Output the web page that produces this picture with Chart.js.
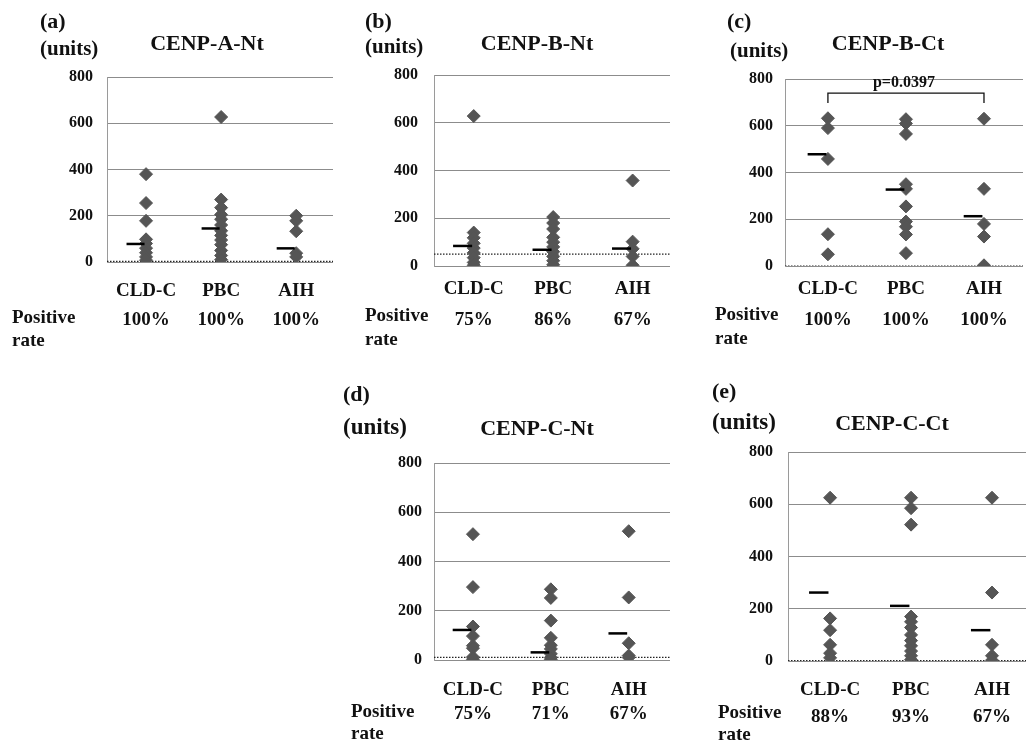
<!DOCTYPE html>
<html>
<head>
<meta charset="utf-8">
<script src="https://cdn.jsdelivr.net/npm/chart.js@4.4.0/dist/chart.umd.min.js"></script>
<style>
  body { margin: 0; background: #fff; width: 1026px; height: 742px; position: relative; overflow: hidden;
         font-family: "Liberation Serif", "Times New Roman", serif; font-weight: bold; color: #111; }
  canvas { position: absolute; }
  .lbl { position: absolute; white-space: nowrap; }
</style>
</head>
<body>
<script>
// groups and axis
const categories = ["CLD-C", "PBC", "AIH"];
const yTicks = [0, 200, 400, 600, 800];

// (a) CENP-A-Nt
const aCLDC = [380, 255, 178, 98, 80, 60, 40, 22, 8];
const aPBC = [627, 270, 235, 205, 185, 160, 135, 115, 95, 75, 50, 28, 10];
const aAIH = [200, 178, 133, 38, 22];
const aMeans = [78, 145, 59];
const aRates = ["100%", "100%", "100%"];

// (b) CENP-B-Nt
const bCLDC = [628, 140, 118, 95, 75, 55, 35, 15, 3];
const bPBC = [205, 180, 155, 120, 100, 80, 60, 40, 22, 5];
const bAIH = [358, 102, 72, 40, 3];
const bMeans = [84, 68, 73];
const bRates = ["75%", "86%", "67%"];

// (c) CENP-B-Ct
const cCLDC = [632, 590, 458, 136, 50];
const cPBC = [628, 610, 565, 350, 330, 255, 190, 168, 135, 55];
const cAIH = [630, 330, 180, 126, 3];
const cMeans = [478, 327, 213];
const cRates = ["100%", "100%", "100%"];

// (d) CENP-C-Nt
const dCLDC = [511, 296, 136, 97, 58, 48, 12, 3];
const dPBC = [287, 252, 160, 90, 60, 45, 25, 10, 3];
const dAIH = [523, 254, 68, 18, 10];
const dMeans = [122, 31, 108];
const dRates = ["75%", "71%", "67%"];

// (e) CENP-C-Ct
const eCLDC = [625, 163, 118, 62, 30, 12];
const ePBC = [625, 585, 522, 170, 150, 128, 100, 78, 58, 38, 20, 5];
const eAIH = [625, 262, 62, 20, 3];
const eMeans = [262, 211, 118];
const eRates = ["88%", "93%", "67%"];

// cut-off (dotted line) per panel, a..e
const cutoffs = [3, 50, 0, 11, 2];

// significance bracket in (c)
const pValue = "p=0.0397";
const bracketY = [697, 740];

Chart.defaults.font.family = '"Liberation Serif", "Times New Roman", serif';
Chart.defaults.font.weight = 'bold';
Chart.defaults.color = '#111';

const panels = [
  { letter: "(a)", title: "CENP-A-Nt", groups: [aCLDC, aPBC, aAIH], means: aMeans, rates: aRates, cutoff: cutoffs[0],
    left: 0, top: 0, w: 340, h: 340, area: { l: 107, t: 77, r: 333, b: 262 }, xMin: 0.48, xMax: 3.49,
    yPad: 14, lh: 29, xPad: 6.5,
    txt: { letter: [40, 28], units: [40, 56, 21], title: [207, 50], pos: [12, 323], rate: [12, 346] } },
  { letter: "(b)", title: "CENP-B-Nt", groups: [bCLDC, bPBC, bAIH], means: bMeans, rates: bRates, cutoff: cutoffs[1],
    left: 340, top: 0, w: 332, h: 340, area: { l: 94, t: 75, r: 330, b: 266 }, xMin: 0.5, xMax: 3.47,
    yPad: 16, lh: 31, xPad: 0,
    txt: { letter: [365, 28], units: [365, 54, 21], title: [537, 50], pos: [365, 321], rate: [365, 345] } },
  { letter: "(c)", title: "CENP-B-Ct", groups: [cCLDC, cPBC, cAIH], means: cMeans, rates: cRates, cutoff: cutoffs[2],
    left: 680, top: 0, w: 346, h: 340, area: { l: 105, t: 79, r: 343, b: 266 }, xMin: 0.45, xMax: 3.5,
    yPad: 12, lh: 31, xPad: 0, bracket: true,
    txt: { letter: [727, 28], units: [730, 58, 21], title: [888, 50], pos: [715, 320], rate: [715, 344] } },
  { letter: "(d)", title: "CENP-C-Nt", groups: [dCLDC, dPBC, dAIH], means: dMeans, rates: dRates, cutoff: cutoffs[3],
    left: 340, top: 370, w: 332, h: 372, area: { l: 94, t: 93, r: 330, b: 290 }, xMin: 0.5, xMax: 3.53,
    yPad: 12, lh: 24, xPad: 10,
    txt: { letter: [343, 401], units: [343, 434, 23], title: [537, 435], pos: [351, 717], rate: [351, 739] } },
  { letter: "(e)", title: "CENP-C-Ct", groups: [eCLDC, ePBC, eAIH], means: eMeans, rates: eRates, cutoff: cutoffs[4],
    left: 680, top: 370, w: 346, h: 372, area: { l: 108, t: 82, r: 346, b: 291 }, xMin: 0.48, xMax: 3.42,
    yPad: 15, lh: 27, xPad: 7.5,
    txt: { letter: [712, 398], units: [712, 429, 23], title: [892, 430], pos: [718, 718], rate: [718, 740] } }
];

// text on a baseline (Liberation Serif: baseline sits 0.8375em below the top of a 1em line box)
function addText(text, x, baseline, size, center) {
  const d = document.createElement("div");
  d.className = "lbl";
  d.textContent = text;
  d.style.fontSize = size + "px";
  d.style.lineHeight = size + "px";
  d.style.top = (baseline - 0.8375 * size) + "px";
  d.style.left = x + "px";
  if (center) d.style.transform = "translateX(-50%)";
  document.body.appendChild(d);
}

// p-value text above the bracket
const pLabel = {
  id: "pLabel",
  afterDatasetsDraw(chart, args, opts) {
    if (!opts.text) return;
    const { ctx, scales: { x, y } } = chart;
    ctx.save();
    ctx.font = 'bold 16px "Liberation Serif", serif';
    ctx.fillStyle = "#111";
    ctx.textAlign = "center";
    ctx.textBaseline = "alphabetic";
    ctx.fillText(opts.text, x.getPixelForValue(2) - 2, y.getPixelForValue(bracketY[1]) - 6);
    ctx.restore();
  }
};

panels.forEach(p => {
  const canvas = document.createElement("canvas");
  canvas.width = p.w;
  canvas.height = p.h;
  canvas.style.left = p.left + "px";
  canvas.style.top = p.top + "px";
  document.body.appendChild(canvas);

  const points = [];
  p.groups.forEach((g, i) => g.forEach(v => points.push({ x: i + 1, y: v })));

  const datasets = [];
  p.means.forEach((m, i) => {
    datasets.push({
      data: [{ x: i + 1 - 0.26, y: m }, { x: i + 1 - 0.02, y: m }],
      showLine: true, borderColor: "#000", borderWidth: 2.5, pointRadius: 0, order: 0
    });
  });
  if (p.bracket) {
    datasets.push({
      data: [{ x: 1, y: bracketY[0] }, { x: 1, y: bracketY[1] }, { x: 3, y: bracketY[1] }, { x: 3, y: bracketY[0] }],
      showLine: true, borderColor: "#111", borderWidth: 1.3, pointRadius: 0, order: 0
    });
  }
  datasets.push({
    data: points, pointStyle: "rectRot", pointRadius: 6.5, backgroundColor: "#555", borderColor: "#555",
    borderWidth: 1, showLine: false, order: 1
  });
  datasets.push({
    data: [{ x: p.xMin, y: p.cutoff }, { x: p.xMax, y: p.cutoff }],
    showLine: true, borderColor: "#222", borderWidth: 1.2, borderDash: [1.5, 1.5], pointRadius: 0, order: 2
  });

  new Chart(canvas.getContext("2d"), {
    type: "scatter",
    data: { datasets: datasets },
    plugins: [pLabel],
    options: {
      responsive: false,
      animation: false,
      layout: { autoPadding: false, padding: { top: p.area.t, right: p.w - p.area.r, left: 0, bottom: 0 } },
      plugins: {
        legend: { display: false },
        tooltip: { enabled: false },
        pLabel: { text: p.bracket ? pValue : null }
      },
      scales: {
        x: {
          type: "linear",
          min: p.xMin,
          max: p.xMax,
          grid: { display: false },
          border: { display: false },
          afterBuildTicks: s => { s.ticks = categories.map((c, i) => ({ value: i + 1 })); },
          afterFit: s => {
            s.height = p.h - p.area.b;
            s.paddingLeft = 0;
            s.paddingRight = 0;
          },
          ticks: {
            padding: p.xPad,
            autoSkip: false,
            maxRotation: 0,
            color: "#111",
            font: { size: 19, weight: "bold", lineHeight: p.lh / 19 },
            callback: v => [categories[v - 1], p.rates[v - 1]]
          }
        },
        y: {
          min: 0,
          max: 800,
          afterBuildTicks: s => { s.ticks = yTicks.map(v => ({ value: v })); },
          afterFit: s => { s.width = p.area.l; },
          grid: { color: "#8c8c8c", drawTicks: false },
          border: { color: "#9a9a9a" },
          ticks: { padding: p.yPad, color: "#111", font: { size: 16, weight: "bold" } }
        }
      }
    }
  });

  addText(p.letter, p.txt.letter[0], p.txt.letter[1], 22, false);
  addText("(units)", p.txt.units[0], p.txt.units[1], p.txt.units[2], false);
  addText(p.title, p.txt.title[0], p.txt.title[1], 22, true);
  addText("Positive", p.txt.pos[0], p.txt.pos[1], 19, false);
  addText("rate", p.txt.rate[0], p.txt.rate[1], 19, false);
});
</script>
</body>
</html>
